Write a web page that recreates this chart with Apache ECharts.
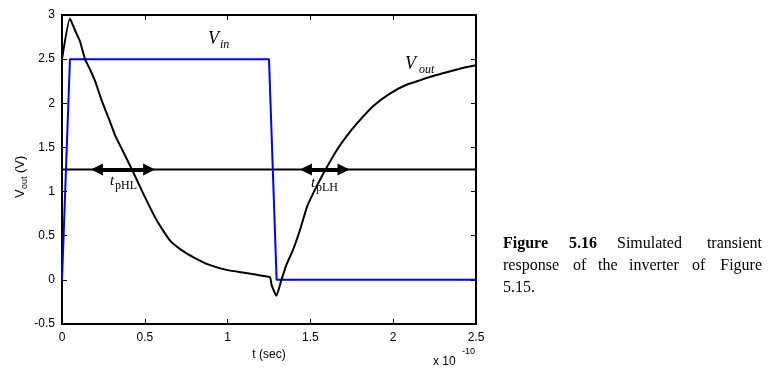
<!DOCTYPE html>
<html><head><meta charset="utf-8">
<script src="https://cdn.jsdelivr.net/npm/echarts@6/dist/echarts.min.js"></script>
<style>html,body{margin:0;padding:0;background:#fff}#c{width:772px;height:375px}</style>
</head><body><div id="c"></div>
<script>
// ---- data ----
const xTicks = [0, 0.5, 1, 1.5, 2, 2.5];        // t (x 1e-10 s)
const yTicks = [-0.5, 0, 0.5, 1, 1.5, 2, 2.5, 3];
const vinT = [0, 0.048, 1.25, 1.296, 2.5];
const vinV = [0, 2.5, 2.5, 0, 0];
const voutT = [0, 0.048, 0.078, 0.109, 0.139, 0.17, 0.2, 0.24, 0.28, 0.32, 0.37, 0.43, 0.49, 0.57, 0.65, 0.72, 0.8, 0.89, 1.0, 1.1, 1.2, 1.256, 1.266, 1.295, 1.325, 1.355, 1.395, 1.437, 1.48, 1.53, 1.58, 1.66, 1.72, 1.78, 1.88, 1.98, 2.08, 2.16, 2.26, 2.34, 2.42, 2.5];
const voutV = [2.5, 2.96, 2.83, 2.70, 2.50, 2.38, 2.25, 2.03, 1.84, 1.64, 1.45, 1.22, 0.98, 0.68, 0.45, 0.34, 0.25, 0.17, 0.11, 0.08, 0.05, 0.03, -0.06, -0.18, 0.0, 0.17, 0.34, 0.565, 0.83, 1.03, 1.21, 1.47, 1.63, 1.77, 1.97, 2.11, 2.21, 2.26, 2.32, 2.36, 2.40, 2.43];
const threshold = 1.25;
const tpHL = [0.211, 0.526];
const tpLH = [1.473, 1.70];

const chart = echarts.init(document.getElementById('c'), null, {renderer: 'canvas'});
const toPairs = (xs, ys) => xs.map((x, i) => [x, ys[i]]);
const axisFont = {fontFamily: 'Liberation Sans', fontSize: 12, color: '#000'};
const baseX = {type: 'value', min: xTicks[0], max: xTicks[xTicks.length-1], interval: 0.5,
  axisLine: {show: true, onZero: false, lineStyle: {color: '#000', width: 2}},
  axisTick: {show: true, inside: true, length: 5, lineStyle: {color: '#000', width: 1}},
  splitLine: {show: false}};
const baseY = {type: 'value', min: yTicks[0], max: yTicks[yTicks.length-1], interval: 0.5,
  axisLine: {show: true, onZero: false, lineStyle: {color: '#000', width: 2}},
  axisTick: {show: true, inside: true, length: 5, lineStyle: {color: '#000', width: 1}},
  splitLine: {show: false}};

const option = {
  animation: false,
  backgroundColor: '#fff',
  grid: {left: 62, right: 296, top: 15, bottom: 51, containLabel: false},
  xAxis: [
    Object.assign({}, baseX, {position: 'bottom',
      axisLabel: Object.assign({margin: 8}, axisFont),
      name: 't (sec)', nameLocation: 'middle', nameGap: 25, nameTextStyle: axisFont}),
    Object.assign({}, baseX, {position: 'top', axisLabel: {show: false}})
  ],
  yAxis: [
    Object.assign({}, baseY, {position: 'left', axisLabel: Object.assign({margin: 7}, axisFont)}),
    Object.assign({}, baseY, {position: 'right', axisLabel: {show: false}})
  ],
  series: [
    {type: 'line', name: 'threshold', data: [[xTicks[0], threshold], [xTicks[xTicks.length-1], threshold]],
      showSymbol: false, lineStyle: {color: '#000', width: 2}, z: 2,
      markLine: {silent: true, symbol: ['triangle', 'triangle'], symbolSize: [12, 12],
        label: {show: false}, lineStyle: {color: '#000', width: 4, type: 'solid'},
        data: [
          [{coord: [tpHL[0], threshold]}, {coord: [tpHL[1], threshold]}],
          [{coord: [tpLH[0], threshold]}, {coord: [tpLH[1], threshold]}]
        ]}},
    {type: 'line', name: 'Vin', data: toPairs(vinT, vinV), showSymbol: false,
      lineStyle: {color: '#0000ff', width: 2}, z: 3},
    {type: 'line', name: 'Vout', data: toPairs(voutT, voutV), showSymbol: false, smooth: 0.15,
      lineStyle: {color: '#000', width: 2}, z: 4}
  ]
};
chart.setOption(option);

const serif = 'Liberation Serif';
function txt(text, x, y, size, opts) {
  return {type: 'text', x: x, y: y, z: 10, silent: true, rotation: (opts && opts.rot) || 0,
    style: Object.assign({text: text, fontFamily: serif, fontSize: size, fill: '#000',
      align: 'left', verticalAlign: 'middle', textAlign: 'left', textVerticalAlign: 'middle'}, opts && opts.style || {})};
}
const it = {fontStyle: 'italic'};
const sans = {fontFamily: 'Liberation Sans'};
const graphics = [
  txt('V', 208, 39, 18, {style: it}),
  txt('in', 220, 45, 12, {style: it}),
  txt('V', 405, 64, 18, {style: it}),
  txt('out', 419, 70, 12, {style: it}),
  txt('t', 110, 181, 15, {style: it}),
  txt('pHL', 115, 186, 12),
  txt('t', 311, 183, 15, {style: it}),
  txt('pLH', 316, 188, 12),
  // y axis name (rotated)
  {type: 'group', x: 20, y: 173, rotation: Math.PI / 2, children: [
    txt('V', -25, 0, 13, {style: sans}),
    txt('out', -16, 5, 9, {style: sans}),
    txt('(V)', 0, 0, 13, {style: sans})
  ]},
  txt('x 10', 433, 362, 12, {style: sans}),
  txt('-10', 462, 352, 9, {style: sans}),
  // caption (justified words)
  txt('Figure', 503, 244, 16, {style: {fontWeight: 'bold'}}),
  txt('5.16', 569, 244, 16, {style: {fontWeight: 'bold'}}),
  txt('Simulated', 617, 244, 16),
  txt('transient', 762, 244, 16, {style: {align: 'right', textAlign: 'right'}}),
  txt('response', 503, 266, 16),
  txt('of', 573, 266, 16),
  txt('the', 598, 266, 16),
  txt('inverter', 629, 266, 16),
  txt('of', 692, 266, 16),
  txt('Figure', 762, 266, 16, {style: {align: 'right', textAlign: 'right'}}),
  txt('5.15.', 503, 288, 16)
];
chart.setOption({graphic: graphics});
</script>
</body></html>
